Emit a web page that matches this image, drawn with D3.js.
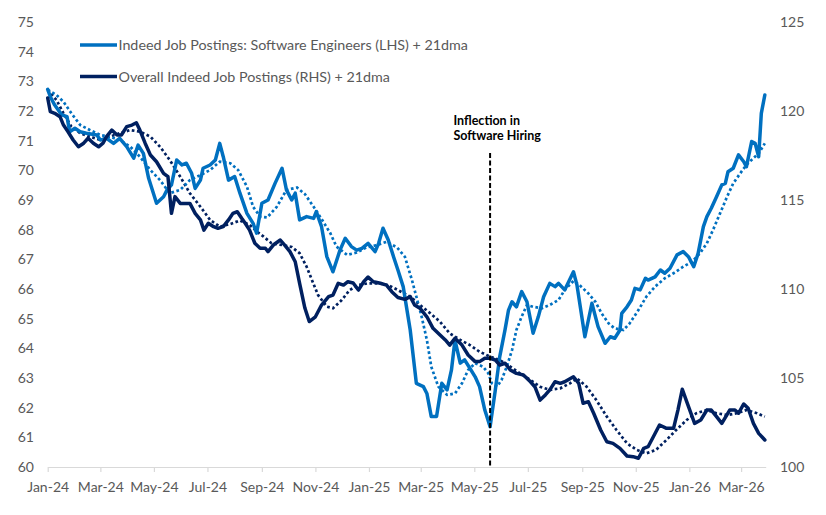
<!DOCTYPE html>
<html>
<head>
<meta charset="utf-8">
<script src="https://cdn.jsdelivr.net/npm/d3@7/dist/d3.min.js"></script>
<style>
  html, body { margin: 0; padding: 0; background: #fff; }
  svg { display: block; }
  text { font-family: Lato, "Open Sans", sans-serif; }
</style>
</head>
<body>
<svg id="chart" width="826" height="515"></svg>
<script>
// ---------- DATA ----------
const xTickDates = ["2024-01-01","2024-03-01","2024-05-01","2024-07-01","2024-09-01","2024-11-01",
  "2025-01-01","2025-03-01","2025-05-01","2025-07-01","2025-09-01","2025-11-01","2026-01-01","2026-03-01"];
const leftTicks = [60,61,62,63,64,65,66,67,68,69,70,71,72,73,74,75];
const rightTicks = [100,105,110,115,120,125];

const legendLabels = [
  "Indeed Job Postings: Software Engineers (LHS) + 21dma",
  "Overall Indeed Job Postings (RHS) + 21dma"
];
const annotationLines = ["Inflection in", "Software Hiring"];
const inflectionDate = "2025-05-19";

// Software engineers postings (LHS)
const swEngineers = [
["2024-01-01",72.73],["2024-01-04",72.48],["2024-01-09",72.20],["2024-01-17",71.87],["2024-01-23",71.81],
["2024-01-26",71.30],["2024-02-01",71.42],["2024-02-07",71.30],["2024-02-14",71.25],["2024-02-26",71.19],
["2024-03-01",71.02],["2024-03-08",71.08],["2024-03-16",70.91],["2024-03-23",71.08],["2024-03-31",70.80],
["2024-04-08",70.41],["2024-04-13",70.85],["2024-04-19",70.57],["2024-04-25",69.73],["2024-05-04",68.89],
["2024-05-12",69.11],["2024-05-16",69.34],["2024-05-21",69.51],["2024-05-27",70.35],["2024-06-02",70.18],
["2024-06-07",70.24],["2024-06-13",69.90],["2024-06-17",69.39],["2024-06-23",69.67],["2024-06-26",70.07],
["2024-07-04",70.18],["2024-07-10",70.35],["2024-07-15",70.91],["2024-07-19",70.46],["2024-07-25",69.67],
["2024-08-01",69.79],["2024-08-07",69.23],["2024-08-15",68.55],["2024-08-22",68.21],["2024-08-26",67.88],
["2024-09-01",68.89],["2024-09-08",69.00],["2024-09-16",69.56],["2024-09-24",70.07],["2024-09-29",69.34],
["2024-10-05",69.00],["2024-10-09",69.23],["2024-10-14",68.33],["2024-10-22",68.44],["2024-10-30",68.38],
["2024-11-02",68.61],["2024-11-08",68.10],["2024-11-14",67.09],["2024-11-21",66.58],["2024-11-29",67.31],
["2024-12-05",67.71],["2024-12-12",67.43],["2024-12-18",67.31],["2024-12-24",67.37],["2024-12-31",67.54],
["2025-01-08",67.26],["2025-01-12",67.54],["2025-01-17",68.05],["2025-01-23",67.65],["2025-01-29",67.09],
["2025-02-03",66.64],["2025-02-09",66.08],["2025-02-17",64.62],["2025-02-24",62.82],["2025-03-04",62.71],
["2025-03-08",62.48],["2025-03-13",61.70],["2025-03-19",61.70],["2025-03-25",62.82],["2025-03-31",62.60],
["2025-04-05",63.27],["2025-04-09",64.28],["2025-04-15",63.50],["2025-04-20",63.61],["2025-04-26",63.33],
["2025-05-02",63.04],["2025-05-07",62.71],["2025-05-13",61.92],["2025-05-19",61.36],["2025-05-25",62.60],
["2025-05-30",63.72],["2025-06-05",64.62],["2025-06-09",65.29],["2025-06-13",65.57],["2025-06-18",65.40],
["2025-06-24",65.91],["2025-06-30",65.57],["2025-07-07",64.51],["2025-07-13",65.07],["2025-07-19",65.74],
["2025-07-26",66.19],["2025-08-01",66.08],["2025-08-05",66.19],["2025-08-12",65.97],["2025-08-22",66.58],
["2025-08-26",66.13],["2025-09-04",64.39],["2025-09-12",65.52],["2025-09-19",64.73],["2025-09-27",64.17],
["2025-10-03",64.39],["2025-10-08",64.34],["2025-10-14",64.62],["2025-10-16",65.18],["2025-10-22",65.40],
["2025-10-27",65.63],["2025-10-31",66.02],["2025-11-06",65.97],["2025-11-12",66.36],["2025-11-15",66.30],
["2025-11-23",66.41],["2025-11-29",66.64],["2025-12-04",66.53],["2025-12-10",66.70],["2025-12-18",67.15],
["2025-12-25",67.26],["2025-12-31",67.09],["2026-01-06",66.75],["2026-01-11",67.20],["2026-01-17",68.10],
["2026-01-21",68.44],["2026-01-26",68.72],["2026-02-01",69.11],["2026-02-07",69.51],["2026-02-11",69.56],
["2026-02-14",69.95],["2026-02-20",70.07],["2026-02-26",70.52],["2026-03-04",70.29],["2026-03-07",70.12],
["2026-03-13",70.97],["2026-03-17",70.91],["2026-03-21",70.46],["2026-03-24",71.92],["2026-03-28",72.54]
];

// Software engineers 21dma (LHS)
const swEngineers21 = [
["2024-01-01",72.71],["2024-01-11",72.54],["2024-01-19",72.31],["2024-01-28",71.92],["2024-02-07",71.53],
["2024-02-18",71.36],["2024-03-01",71.19],["2024-03-12",71.13],["2024-03-23",71.02],["2024-04-04",70.80],
["2024-04-15",70.46],["2024-04-27",70.01],["2024-05-08",69.67],["2024-05-19",69.23],["2024-05-31",69.34],
["2024-06-11",69.67],["2024-06-23",69.84],["2024-07-04",70.01],["2024-07-15",70.29],["2024-07-27",70.24],
["2024-08-05",70.01],["2024-08-15",69.45],["2024-08-22",68.77],["2024-08-30",68.44],["2024-09-07",68.41],
["2024-09-18",68.77],["2024-09-29",69.34],["2024-10-11",69.42],["2024-10-20",69.20],["2024-10-30",68.77],
["2024-11-08",68.36],["2024-11-18",67.88],["2024-11-25",67.43],["2024-12-07",67.15],["2024-12-18",67.23],
["2024-12-29",67.40],["2025-01-10",67.48],["2025-01-21",67.59],["2025-02-02",67.40],["2025-02-11",67.08],
["2025-02-19",66.30],["2025-02-24",65.74],["2025-03-02",65.07],["2025-03-08",64.28],["2025-03-13",63.38],
["2025-03-21",62.71],["2025-03-31",62.43],["2025-04-09",62.48],["2025-04-17",62.82],["2025-04-24",63.27],
["2025-05-02",63.50],["2025-05-11",63.38],["2025-05-17",63.16],["2025-05-21",62.82],["2025-05-27",62.71],
["2025-06-01",62.93],["2025-06-07",63.38],["2025-06-13",63.94],["2025-06-18",64.62],["2025-06-24",65.07],
["2025-06-30",65.46],["2025-07-07",65.40],["2025-07-17",65.35],["2025-07-26",65.46],["2025-08-05",65.63],
["2025-08-12",65.97],["2025-08-22",66.27],["2025-08-29",66.13],["2025-09-08",65.85],["2025-09-16",65.57],
["2025-09-23",65.18],["2025-10-01",64.84],["2025-10-08",64.67],["2025-10-18",64.62],["2025-10-25",64.84],
["2025-11-04",65.29],["2025-11-13",65.74],["2025-11-23",66.08],["2025-12-04",66.36],["2025-12-14",66.53],
["2025-12-25",66.75],["2026-01-04",66.92],["2026-01-13",67.20],["2026-01-21",67.54],["2026-01-28",67.99],
["2026-02-05",68.55],["2026-02-13",69.11],["2026-02-20",69.56],["2026-02-28",69.90],["2026-03-07",70.18],
["2026-03-15",70.41],["2026-03-21",70.57],["2026-03-28",70.91]
];

// Overall postings (RHS)
const overall = [
["2024-01-01",120.73],["2024-01-04",119.96],["2024-01-09",119.87],["2024-01-15",119.68],["2024-01-19",119.21],
["2024-01-24",118.84],["2024-01-30",118.37],["2024-02-05",117.99],["2024-02-11",118.19],["2024-02-16",118.47],
["2024-02-22",118.19],["2024-02-28",117.99],["2024-03-04",118.19],["2024-03-08",118.56],["2024-03-14",118.93],
["2024-03-20",118.65],["2024-03-25",118.65],["2024-03-31",119.12],["2024-04-06",119.21],["2024-04-11",119.34],
["2024-04-15",118.93],["2024-04-21",118.19],["2024-04-27",117.53],["2024-05-04",117.15],["2024-05-12",116.50],
["2024-05-17",116.31],["2024-05-21",114.25],["2024-05-25",115.19],["2024-05-31",114.81],["2024-06-05",114.81],
["2024-06-11",114.81],["2024-06-17",114.25],["2024-06-23",113.88],["2024-06-27",113.31],["2024-07-02",113.69],
["2024-07-08",113.50],["2024-07-13",113.41],["2024-07-19",113.50],["2024-07-25",113.88],["2024-07-30",114.25],
["2024-08-04",114.34],["2024-08-09",113.97],["2024-08-13",113.69],["2024-08-18",113.31],["2024-08-24",112.57],
["2024-08-30",112.29],["2024-09-05",112.29],["2024-09-08",112.10],["2024-09-14",112.47],["2024-09-22",112.75],
["2024-09-27",112.47],["2024-10-03",112.10],["2024-10-09",111.53],["2024-10-14",110.32],["2024-10-20",108.93],
["2024-10-25",108.17],["2024-11-01",108.44],["2024-11-08",109.10],["2024-11-16",109.57],["2024-11-21",109.66],
["2024-11-27",110.32],["2024-12-03",110.22],["2024-12-08",110.41],["2024-12-14",110.34],["2024-12-20",109.94],
["2024-12-26",110.41],["2024-12-31",110.67],["2025-01-06",110.41],["2025-01-14",110.32],["2025-01-21",110.22],
["2025-01-27",109.85],["2025-02-03",109.52],["2025-02-11",109.42],["2025-02-17",109.57],["2025-02-22",109.10],
["2025-02-28",108.92],["2025-03-08",108.44],["2025-03-15",107.79],["2025-03-23",107.42],["2025-03-29",107.14],
["2025-04-03",106.85],["2025-04-09",107.23],["2025-04-17",106.85],["2025-04-24",106.29],["2025-05-02",105.92],
["2025-05-07",105.92],["2025-05-13",106.11],["2025-05-19",106.11],["2025-05-25",106.01],["2025-05-30",105.73],
["2025-06-05",105.83],["2025-06-11",105.45],["2025-06-18",105.26],["2025-06-26",105.17],["2025-07-04",104.79],
["2025-07-09",104.51],["2025-07-15",103.76],["2025-07-21",104.05],["2025-07-26",104.33],["2025-08-01",104.79],
["2025-08-07",104.70],["2025-08-12",104.79],["2025-08-22",105.07],["2025-08-28",104.70],["2025-09-02",103.58],
["2025-09-08",103.67],["2025-09-14",103.02],["2025-09-22",102.08],["2025-09-29",101.42],["2025-10-06",101.33],
["2025-10-14",101.05],["2025-10-22",100.62],["2025-10-29",100.58],["2025-11-04",100.49],["2025-11-10",101.05],
["2025-11-15",101.14],["2025-11-21",101.70],["2025-11-28",102.36],["2025-12-06",102.17],["2025-12-14",102.17],
["2025-12-19",103.20],["2025-12-24",104.37],["2025-12-29",103.67],["2026-01-07",102.45],["2026-01-14",102.64],
["2026-01-21",103.20],["2026-01-26",103.20],["2026-02-01",102.83],["2026-02-07",102.45],["2026-02-16",103.20],
["2026-02-22",103.20],["2026-02-26",103.02],["2026-03-04",103.54],["2026-03-09",103.30],["2026-03-15",102.45],
["2026-03-21",101.89],["2026-03-28",101.52]
];

// Overall postings 21dma (RHS)
const overall21 = [
["2024-01-01",121.18],["2024-01-11",120.62],["2024-01-19",119.87],["2024-01-28",119.12],["2024-02-07",118.75],
["2024-02-18",118.56],["2024-03-01",118.37],["2024-03-12",118.56],["2024-03-23",118.75],["2024-04-04",118.93],
["2024-04-15",118.84],["2024-04-27",118.56],["2024-05-08",117.99],["2024-05-19",117.25],["2024-05-31",116.31],
["2024-06-11",115.38],["2024-06-23",114.62],["2024-07-04",113.88],["2024-07-15",113.50],["2024-07-27",113.65],
["2024-08-07",113.85],["2024-08-18",113.60],["2024-08-27",113.20],["2024-09-03",112.94],["2024-09-12",112.57],
["2024-09-24",112.47],["2024-10-05",112.36],["2024-10-14",112.01],["2024-10-22",111.25],["2024-10-28",110.51],
["2024-11-04",109.66],["2024-11-14",109.01],["2024-11-21",108.92],["2024-12-01",109.38],["2024-12-10",109.94],
["2024-12-20",110.22],["2024-12-31",110.32],["2025-01-12",110.32],["2025-01-23",110.22],["2025-02-03",109.94],
["2025-02-17",109.57],["2025-02-28",109.10],["2025-03-12",108.63],["2025-03-23",108.16],["2025-04-03",107.51],
["2025-04-15",107.14],["2025-04-26",106.85],["2025-05-07",106.48],["2025-05-19",106.20],["2025-05-30",106.01],
["2025-06-11",105.64],["2025-06-22",105.26],["2025-07-04",104.89],["2025-07-15",104.51],["2025-07-26",104.33],
["2025-08-07",104.42],["2025-08-18",104.70],["2025-08-26",104.98],["2025-09-06",104.51],["2025-09-17",103.76],
["2025-09-29",102.83],["2025-10-10",102.08],["2025-10-22",101.33],["2025-11-02",100.96],["2025-11-13",100.77],
["2025-11-24",100.96],["2025-12-06",101.52],["2025-12-17",102.08],["2025-12-29",102.64],["2026-01-09",103.02],
["2026-01-21",103.20],["2026-02-01",103.02],["2026-02-13",102.92],["2026-02-24",103.02],["2026-03-07",103.20],
["2026-03-19",103.02],["2026-03-28",102.83]
];

// ---------- CHART ----------
const parse = d3.timeParse("%Y-%m-%d");
const svg = d3.select("#chart");
const plot = { left: 47.7, right: 765.7, top: 22, bottom: 467 };

const x = d3.scaleTime()
  .domain([parse("2024-01-01"), parse("2026-03-29")])
  .range([plot.left, plot.right]);
const yL = d3.scaleLinear().domain([60, 75]).range([plot.bottom, plot.top]);
const yR = d3.scaleLinear().domain([100, 125]).range([plot.bottom, plot.top]);

const lightBlue = "#0070C0";
const navy = "#002060";
const labelColor = "#595959";

// X axis
const xAxis = d3.axisBottom(x)
  .tickValues(xTickDates.map(parse))
  .tickFormat(d3.timeFormat("%b-%y"))
  .tickSizeInner(5).tickSizeOuter(0).tickPadding(7);
const gx = svg.append("g").attr("transform", `translate(0,${plot.bottom})`).call(xAxis);
gx.select(".domain").attr("stroke", "#d9d9d9").attr("stroke-width", 1.2);
gx.selectAll(".tick line").attr("stroke", "#d9d9d9").attr("stroke-width", 1.2);
gx.selectAll(".tick text").attr("fill", labelColor).attr("font-size", 14)
  .attr("font-family", "Lato, sans-serif").attr("dy", "0.9em");

// Left axis
const gl = svg.append("g").attr("transform", `translate(34,0)`)
  .call(d3.axisLeft(yL).tickValues(leftTicks).tickSize(0).tickPadding(0).tickFormat(d3.format("d")));
gl.select(".domain").remove();
gl.selectAll(".tick text").attr("fill", labelColor).attr("font-size", 14).attr("font-family", "Lato, sans-serif");

// Right axis
const gr = svg.append("g").attr("transform", `translate(780,0)`)
  .call(d3.axisRight(yR).tickValues(rightTicks).tickSize(0).tickPadding(0).tickFormat(d3.format("d")));
gr.select(".domain").remove();
gr.selectAll(".tick text").attr("fill", labelColor).attr("font-size", 14).attr("font-family", "Lato, sans-serif");

// Lines
const lineL = d3.line().x(d => x(parse(d[0]))).y(d => yL(d[1])).curve(d3.curveLinear);
const lineR = d3.line().x(d => x(parse(d[0]))).y(d => yR(d[1])).curve(d3.curveLinear);

svg.append("path").datum(overall21).attr("d", lineR)
  .attr("fill", "none").attr("stroke", navy).attr("stroke-width", 2.7)
  .attr("stroke-dasharray", "2.7,2.5");
svg.append("path").datum(swEngineers21).attr("d", lineL)
  .attr("fill", "none").attr("stroke", lightBlue).attr("stroke-width", 2.7)
  .attr("stroke-dasharray", "2.7,2.5");
svg.append("path").datum(swEngineers).attr("d", lineL)
  .attr("fill", "none").attr("stroke", lightBlue).attr("stroke-width", 3.5)
  .attr("stroke-linejoin", "round").attr("stroke-linecap", "round");
svg.append("path").datum(overall).attr("d", lineR)
  .attr("fill", "none").attr("stroke", navy).attr("stroke-width", 3.5)
  .attr("stroke-linejoin", "round").attr("stroke-linecap", "round");

// Inflection annotation
const xi = x(parse(inflectionDate));
svg.append("line")
  .attr("x1", xi).attr("x2", xi).attr("y1", 153).attr("y2", plot.bottom)
  .attr("stroke", "#000").attr("stroke-width", 2).attr("stroke-dasharray", "5,2.5");
svg.selectAll("text.annot").data(annotationLines).join("text")
  .attr("class", "annot")
  .attr("x", 453.5).attr("y", (d, i) => 125 + i * 15)
  .attr("font-size", 12.5).attr("font-weight", "bold").attr("fill", "#000")
  .text(d => d);

// Legend
const legend = svg.append("g");
const legendColors = [lightBlue, navy];
const legendY = [45, 76.5];
legendLabels.forEach((lab, i) => {
  legend.append("line").attr("x1", 80).attr("x2", 117).attr("y1", legendY[i]).attr("y2", legendY[i])
    .attr("stroke", legendColors[i]).attr("stroke-width", 3.4);
  legend.append("text").attr("x", 118.5).attr("y", legendY[i]).attr("dy", "0.36em")
    .attr("font-size", 14.3).attr("fill", labelColor).text(lab);
});
</script>
</body>
</html>
